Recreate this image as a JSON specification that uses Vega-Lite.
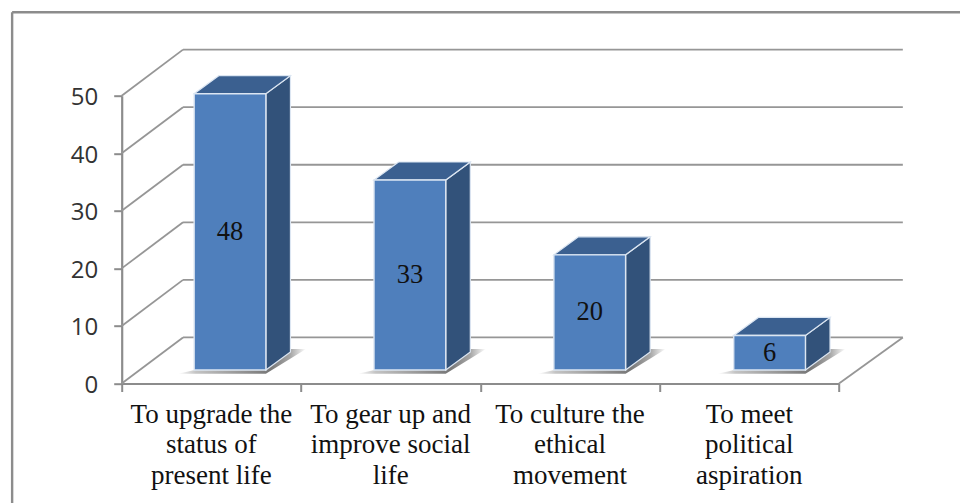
{
"$schema":"https://vega.github.io/schema/vega-lite/v6.json",
"width":717.3,"height":287.8,
"autosize":{"type":"none"},
"padding":{"left":121.7,"top":95.7,"right":121,"bottom":119.5},
"background":"white",
"view":{"stroke":null},
"config":{"style":{"cell":{"stroke":null}}},
"datasets":{
"bars":[
{"i":0,"label":"To upgrade the\nstatus of\npresent life","value":48},
{"i":1,"label":"To gear up and\nimprove social\nlife","value":33},
{"i":2,"label":"To culture the\nethical\nmovement","value":20},
{"i":3,"label":"To meet\npolitical\naspiration","value":6}
],
"ticks":[{"tick":0},{"tick":10},{"tick":20},{"tick":30},{"tick":40},{"tick":50}]
},
"layer":[
{"data":{"name":"ticks"},
 "transform":[{"calculate":"datum.tick+8","as":"back"},{"calculate":"0.342","as":"xa"},{"calculate":"4.356","as":"xb"}],
 "mark":{"type":"rule","stroke":"#969696","strokeWidth":1.8},
 "encoding":{
  "x":{"field":"xa","type":"quantitative","scale":{"domain":[0,4],"nice":false,"zero":false},"axis":{"values":[0,1,2,3,4],"labels":false,"title":null,"grid":false,"domainColor":"#8c8c8c","domainWidth":2.2,"tickColor":"#8c8c8c","tickWidth":2,"tickSize":8}},
  "x2":{"field":"xb"},
  "y":{"field":"back","type":"quantitative","scale":{"domain":[0,50],"nice":false,"zero":false},"axis":{"values":[0,10,20,30,40,50],"title":null,"grid":false,"domainColor":"#8c8c8c","domainWidth":2.2,"tickColor":"#8c8c8c","tickWidth":2,"tickSize":8,"labelFont":"Open Sans","labelFontSize":24,"labelColor":"#333333","labelPadding":16,"labelOffset":2}}
 }},
{"data":{"name":"ticks"},
 "transform":[{"calculate":"datum.tick+8","as":"back"},{"calculate":"0","as":"xa"},{"calculate":"0.342","as":"xb"}],
 "mark":{"type":"rule","stroke":"#969696","strokeWidth":1.8},
 "encoding":{
  "x":{"field":"xa","type":"quantitative","scale":{"domain":[0,4],"nice":false,"zero":false}},
  "x2":{"field":"xb"},
  "y":{"field":"tick","type":"quantitative","scale":{"domain":[0,50],"nice":false,"zero":false}},
  "y2":{"field":"back"}
 }},
{"data":{"values":[{"a":4,"b":4.356,"from":0,"to":8}]},
 "mark":{"type":"rule","stroke":"#969696","strokeWidth":1.8},
 "encoding":{
  "x":{"field":"a","type":"quantitative","scale":{"domain":[0,4],"nice":false,"zero":false}},
  "x2":{"field":"b"},
  "y":{"field":"from","type":"quantitative","scale":{"domain":[0,50],"nice":false,"zero":false}},
  "y2":{"field":"to"}
 }},
{"data":{"name":"bars"},
 "transform":[{"calculate":"[0,1]","as":"t"},{"flatten":["t"]},
  {"calculate":"1.7+4.3*datum.t","as":"sy"},
  {"calculate":"datum.i*1.003+0.313+0.626*datum.t","as":"sx"},
  {"calculate":"datum.i*1.003+0.804+0.224*datum.t","as":"sx2"}],
 "mark":{"type":"area","orient":"horizontal","fill":{"gradient":"linear","x1":0,"x2":1,"y1":0,"y2":0,"stops":[{"offset":0,"color":"#ffffff"},{"offset":0.14,"color":"#c4c4c4"},{"offset":0.72,"color":"#777777"},{"offset":0.88,"color":"#a8a8a8"},{"offset":1,"color":"#ffffff"}]}},
 "encoding":{
  "y":{"field":"sy","type":"quantitative","scale":{"domain":[0,50],"nice":false,"zero":false}},
  "x":{"field":"sx","type":"quantitative","scale":{"domain":[0,4],"nice":false,"zero":false}},
  "x2":{"field":"sx2"},
  "detail":{"field":"i"}
 }},
{"data":{"name":"bars"},
 "transform":[{"calculate":"[0,1]","as":"t"},{"flatten":["t"]},
  {"calculate":"datum.i*1.003+0.804+0.137*datum.t","as":"px"},
  {"calculate":"datum.value+2.35+3.13*datum.t","as":"ptop"},
  {"calculate":"2.35+3.13*datum.t","as":"pbot"}],
 "mark":{"type":"area","orient":"vertical","fill":"#32527a","stroke":"#dce6f2","strokeWidth":1.2},
 "encoding":{
  "x":{"field":"px","type":"quantitative","scale":{"domain":[0,4],"nice":false,"zero":false}},
  "y":{"field":"ptop","type":"quantitative","scale":{"domain":[0,50],"nice":false,"zero":false}},
  "y2":{"field":"pbot"},
  "detail":{"field":"i"}
 }},
{"data":{"name":"bars"},
 "transform":[{"calculate":"[0,1]","as":"t"},{"flatten":["t"]},
  {"calculate":"datum.value+2.35+3.13*datum.t","as":"py"},
  {"calculate":"datum.i*1.003+0.404+0.137*datum.t","as":"pl"},
  {"calculate":"datum.i*1.003+0.804+0.137*datum.t","as":"pr"}],
 "mark":{"type":"area","orient":"horizontal","fill":"#3b6090","stroke":"#dce6f2","strokeWidth":1.2},
 "encoding":{
  "y":{"field":"py","type":"quantitative","scale":{"domain":[0,50],"nice":false,"zero":false}},
  "x":{"field":"pl","type":"quantitative","scale":{"domain":[0,4],"nice":false,"zero":false}},
  "x2":{"field":"pr"},
  "detail":{"field":"i"}
 }},
{"data":{"name":"bars"},
 "transform":[
  {"calculate":"datum.i*1.003+0.404","as":"l"},{"calculate":"datum.i*1.003+0.804","as":"r"},
  {"calculate":"datum.value+2.35","as":"top"},{"calculate":"2.35","as":"base"}],
 "mark":{"type":"rect","fill":"#4f7fbc","stroke":"#dce6f2","strokeWidth":1.4},
 "encoding":{
  "x":{"field":"l","type":"quantitative","scale":{"domain":[0,4],"nice":false,"zero":false}},
  "x2":{"field":"r"},
  "y":{"field":"top","type":"quantitative","scale":{"domain":[0,50],"nice":false,"zero":false}},
  "y2":{"field":"base"}
 }},
{"data":{"name":"bars"},
 "transform":[{"calculate":"datum.i*1.003+0.604","as":"c"},{"calculate":"datum.value/2+2.35","as":"m"}],
 "mark":{"type":"text","font":"Liberation Serif","fontSize":26.5,"color":"#111111","align":"center","baseline":"middle"},
 "encoding":{
  "x":{"field":"c","type":"quantitative","scale":{"domain":[0,4],"nice":false,"zero":false}},
  "y":{"field":"m","type":"quantitative","scale":{"domain":[0,50],"nice":false,"zero":false}},
  "text":{"field":"value","type":"quantitative"}
 }},
{"data":{"name":"bars"},
 "transform":[{"calculate":"datum.i+0.5","as":"c"},{"calculate":"0","as":"floor"}],
 "mark":{"type":"text","font":"Liberation Serif","fontSize":27,"color":"#111111","align":"center","baseline":"top","lineBreak":"\n","lineHeight":30.5,"dy":18},
 "encoding":{
  "x":{"field":"c","type":"quantitative","scale":{"domain":[0,4],"nice":false,"zero":false}},
  "y":{"field":"floor","type":"quantitative","scale":{"domain":[0,50],"nice":false,"zero":false}},
  "text":{"field":"label","type":"nominal"}
 }},
{"data":{"values":[{"a":-0.611,"b":4.68,"top":64.5,"bottom":-21}]},
 "layer":[
  {"mark":{"type":"rule","stroke":"#8c8c8c","strokeWidth":2.4},
   "encoding":{
    "x":{"field":"a","type":"quantitative","scale":{"domain":[0,4],"nice":false,"zero":false}},
    "x2":{"field":"b"},
    "y":{"field":"top","type":"quantitative","scale":{"domain":[0,50],"nice":false,"zero":false}}
   }},
  {"mark":{"type":"rule","stroke":"#8c8c8c","strokeWidth":2.4},
   "encoding":{
    "x":{"field":"a","type":"quantitative","scale":{"domain":[0,4],"nice":false,"zero":false}},
    "y":{"field":"top","type":"quantitative","scale":{"domain":[0,50],"nice":false,"zero":false}},
    "y2":{"field":"bottom"}
   }}
 ]}
]
}
